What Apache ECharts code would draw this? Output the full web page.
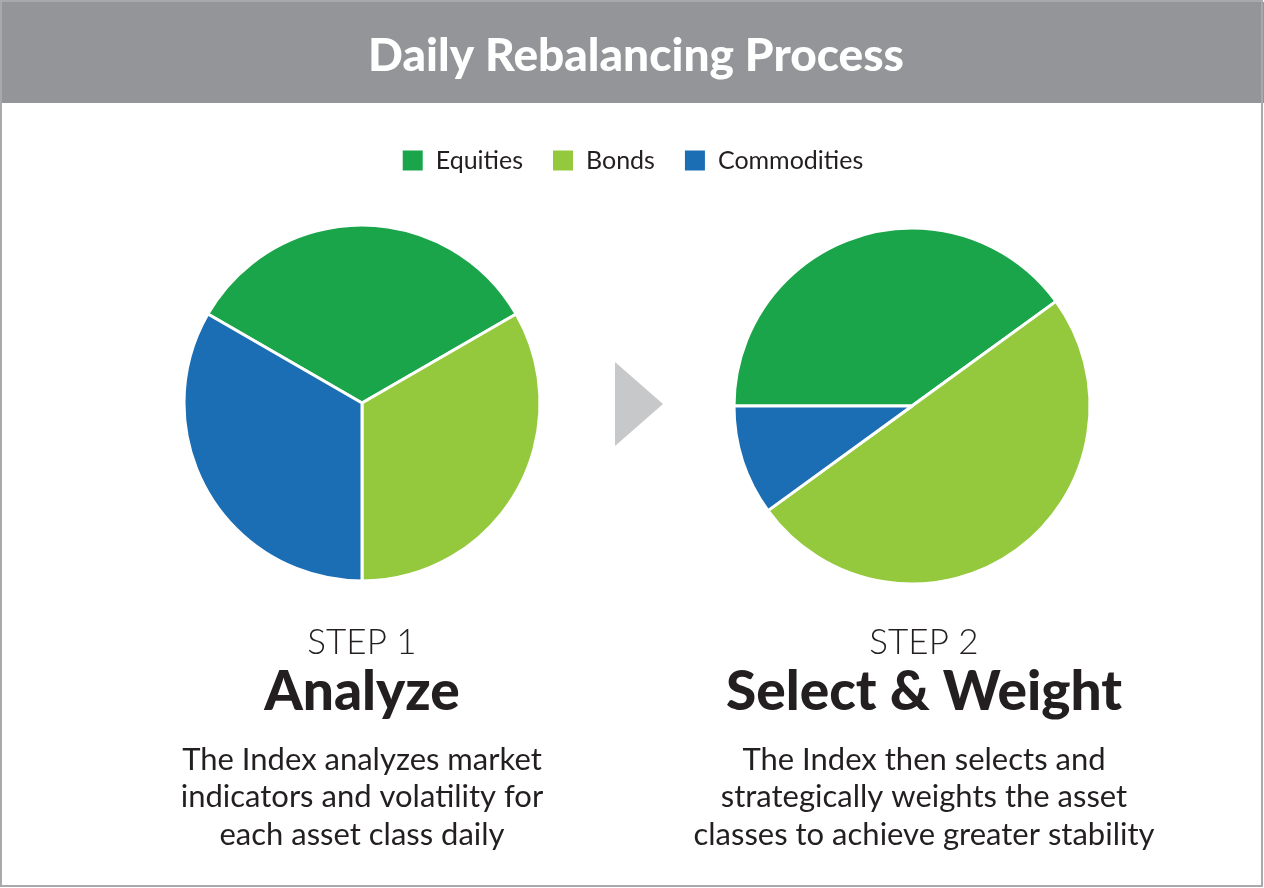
<!DOCTYPE html>
<html>
<head>
<meta charset="utf-8">
<script src="https://cdn.jsdelivr.net/npm/echarts@6/dist/echarts.min.js"></script>
<style>
  html, body { margin: 0; padding: 0; background: #fff; }
  #main { width: 1264px; height: 888px; }
</style>
</head>
<body>
<div id="main"></div>
<script>
// asset classes and their colours
var assetNames = ['Equities', 'Bonds', 'Commodities'];
var assetColors = ['#1ba54a', '#95c93d', '#1b6db4'];
// step 1: equal split, step 2: re-weighted
var step1Values = [33.33, 33.33, 33.33];
var step2Values = [40, 50, 10];

var stepLabels = ['STEP 1', 'STEP 2'];
var stepTitles = ['Analyze', 'Select & Weight'];
var stepText = [
  'The Index analyzes market\nindicators and volatility for\neach asset class daily',
  'The Index then selects and\nstrategically weights the asset\nclasses to achieve greater stability'
];

var font = 'Lato';
var dark = '#231f20';

function toData (values) {
  return values.map(function (v, i) {
    return { name: assetNames[i], value: v, itemStyle: { color: assetColors[i] } };
  });
}

function stepGraphics (cx, i) {
  return [
    { type: 'text', style: { text: stepLabels[i], x: cx, y: 643, textAlign: 'center', textVerticalAlign: 'middle', font: '300 35px ' + font, fill: dark } },
    { type: 'text', style: { text: stepTitles[i], x: cx, y: 692, textAlign: 'center', textVerticalAlign: 'middle', font: '900 55px ' + font, fill: dark } },
    { type: 'text', style: { text: stepText[i], x: cx, y: 741, textAlign: 'center', font: '400 31px ' + font, lineHeight: 37.5, fill: dark } }
  ];
}

var chart = echarts.init(document.getElementById('main'));
var option = {
  backgroundColor: '#fff',
  animation: false,
  legend: {
    top: 143,
    left: 'center',
    icon: 'rect',
    itemWidth: 22,
    itemHeight: 22,
    itemGap: 28,
    selectedMode: false,
    data: assetNames,
    textStyle: { fontFamily: font, fontSize: 25, color: dark, padding: [0, 0, 0, 7] }
  },
  graphic: [
    { type: 'rect', shape: { x: 1, y: 1, width: 1261, height: 885 }, style: { fill: 'none', stroke: '#a7a9ac', lineWidth: 2 }, z: 1 },
    { type: 'rect', shape: { x: 0, y: 2, width: 1264, height: 101 }, style: { fill: '#939598' } },
    { type: 'text', style: { text: 'Daily Rebalancing Process', x: 636, y: 56, textAlign: 'center', textVerticalAlign: 'middle', font: '900 46px ' + font, fill: '#fff' } },
    { type: 'polygon', shape: { points: [[615, 362], [663, 404], [615, 446]] }, style: { fill: '#c7c8ca' } }
  ].concat(
    [362, 924].map(function (cx, i) { return stepGraphics(cx, i); }).reduce(function (a, b) { return a.concat(b); }, [])
  ),
  series: [
    {
      type: 'pie',
      center: [362, 403],
      radius: 178,
      startAngle: 150,
      label: { show: false },
      labelLine: { show: false },
      silent: true,
      itemStyle: { borderColor: '#fff', borderWidth: 3 },
      data: toData(step1Values)
    },
    {
      type: 'pie',
      center: [912, 406],
      radius: 178,
      startAngle: 180,
      label: { show: false },
      labelLine: { show: false },
      silent: true,
      itemStyle: { borderColor: '#fff', borderWidth: 3 },
      data: toData(step2Values)
    }
  ]
};
chart.setOption(option);
</script>
</body>
</html>
